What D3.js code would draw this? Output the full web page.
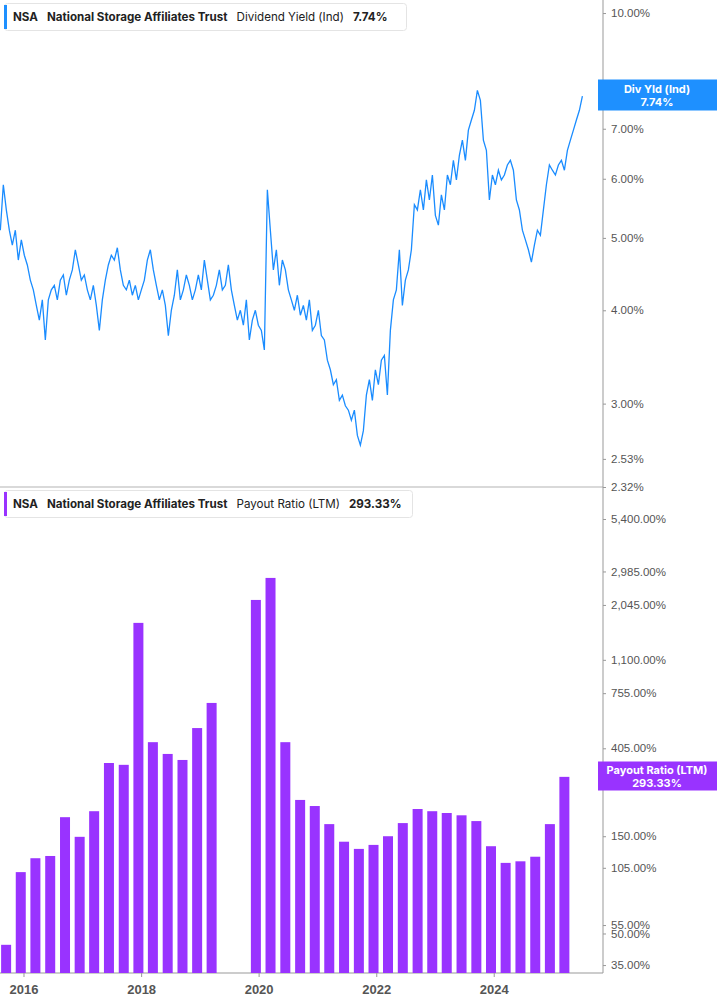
<!DOCTYPE html><html><head><meta charset="utf-8"><script src="https://cdn.jsdelivr.net/npm/d3@7"></script>
<style>body{margin:0;background:#fff;font-family:Inter,"Open Sans",sans-serif}</style></head><body><svg id="c" width="717" height="1005"></svg>
<script>
const yieldStart="2015-08-10", yieldEnd="2025-07-05";
const yieldValues=[5.12,5.89,5.45,5.12,4.89,5.12,4.67,4.97,4.74,4.60,4.39,4.26,4.06,3.88,4.13,3.65,4.13,4.26,4.32,4.13,4.39,4.46,4.19,4.39,4.53,4.82,4.60,4.39,4.46,4.26,4.13,4.32,4.06,3.76,4.13,4.39,4.60,4.74,4.67,4.85,4.53,4.32,4.26,4.39,4.19,4.32,4.13,4.26,4.39,4.67,4.82,4.53,4.32,4.13,4.26,4.06,3.70,4.00,4.19,4.53,4.13,4.26,4.46,4.32,4.13,4.26,4.46,4.26,4.67,4.39,4.13,4.19,4.32,4.53,4.26,4.32,4.60,4.26,4.06,3.88,4.00,3.82,4.13,3.65,3.88,4.00,3.82,3.76,3.54,5.80,5.12,4.53,4.82,4.32,4.67,4.53,4.26,4.13,4.00,4.19,3.94,4.06,3.88,4.13,3.76,3.82,4.00,3.70,3.65,3.43,3.33,3.18,3.23,3.03,3.08,2.98,2.94,2.85,2.94,2.72,2.64,2.76,3.08,3.23,3.03,3.33,3.18,3.43,3.48,3.08,3.76,4.13,4.26,4.82,4.06,4.39,4.53,4.82,5.54,5.45,5.80,5.45,5.98,5.62,6.07,5.36,5.20,5.71,5.45,6.07,5.89,6.35,5.98,6.45,6.76,6.35,6.97,7.19,7.41,7.88,7.64,6.76,6.55,5.62,6.07,5.89,6.16,5.98,6.07,6.26,6.35,6.16,5.62,5.45,5.12,4.97,4.82,4.64,4.89,5.12,5.04,5.45,5.89,6.26,6.16,6.07,6.26,6.35,6.16,6.55,6.76,6.97,7.19,7.41,7.74];
const payoutQuarters=["2015-09-15","2015-12-15","2016-03-15","2016-06-15","2016-09-15","2016-12-15","2017-03-15","2017-06-15","2017-09-15","2017-12-15","2018-03-15","2018-06-15","2018-09-15","2018-12-15","2019-03-15","2019-06-15","2019-09-15","2019-12-15","2020-03-15","2020-06-15","2020-09-15","2020-12-15","2021-03-15","2021-06-15","2021-09-15","2021-12-15","2022-03-15","2022-06-15","2022-09-15","2022-12-15","2023-03-15","2023-06-15","2023-09-15","2023-12-15","2024-03-15","2024-06-15","2024-09-15","2024-12-15","2025-03-15"];
const payoutValues=[44,100,117,120,186,149,199,343,336,1670,434,380,355,509,676,null,null,2164,2775,434,226,211,172,141,130,136,150,174,204,199,195,190,178,134,111,113,119,172,293.33];
const yieldTicks=[10,8,7,6,5,4,3,2.53,2.32];
const payoutTicks=[5400,2985,2045,1100,755,405,150,105,55,50,35];
const yearTicks=[2016,2018,2020,2022,2024];

const svg=d3.select("#c"), W=603;
const pt=d3.timeParse("%Y-%m-%d");
const x=d3.scaleTime().domain([new Date(2015,7,8),new Date(2025,10,10)]).range([0,W]);
const y1=d3.scaleLog().domain([2.32,10.41]).range([487,0]);
const y2=d3.scaleLog().domain([32,7750]).range([973,487]);
const t0=pt(yieldStart),t1=pt(yieldEnd),n=yieldValues.length;
const ydata=yieldValues.map((v,i)=>({d:new Date(+t0+(t1-t0)*i/(n-1)),v}));
svg.append("line").attr("x1",0).attr("x2",W).attr("y1",487).attr("y2",487).attr("stroke","#ccc").attr("stroke-width",1.5);
svg.append("line").attr("x1",W).attr("x2",W).attr("y1",0).attr("y2",973).attr("stroke","#999");
svg.append("line").attr("x1",0).attr("x2",W).attr("y1",973).attr("y2",973).attr("stroke","#999");
svg.append("path").datum(ydata).attr("fill","none").attr("stroke","#1a8cff").attr("stroke-width",1.3)
 .attr("d",d3.line().x(d=>x(d.d)).y(d=>y1(d.v)));
svg.append("g").selectAll("rect").data(payoutQuarters.map((q,i)=>({d:pt(q),v:payoutValues[i]})).filter(d=>d.v!=null))
 .join("rect").attr("x",d=>x(d.d)-5).attr("width",10).attr("y",d=>y2(d.v)).attr("height",d=>973-y2(d.v)).attr("fill","#9933ff");
const fmt=v=>d3.format(",.2f")(v)+"%";
const ax1=svg.append("g").attr("transform",`translate(${W},0)`).call(d3.axisRight(y1).tickValues(yieldTicks).tickFormat(fmt).tickSize(3));
const ax2=svg.append("g").attr("transform",`translate(${W},0)`).call(d3.axisRight(y2).tickValues(payoutTicks).tickFormat(fmt).tickSize(3));
[ax1,ax2].forEach(a=>{a.select(".domain").remove();a.selectAll("text").attr("fill","#555").attr("font-size",11.5).attr("x",8);a.selectAll("line").attr("stroke","#999");});
const ax3=svg.append("g").attr("transform","translate(0,973)").call(d3.axisBottom(x).tickValues(yearTicks.map(t=>new Date(t,0,1))).tickFormat(d3.timeFormat("%Y")).tickSize(4));
ax3.select(".domain").remove();ax3.selectAll("line").attr("stroke","#999");
ax3.selectAll("text").attr("fill","#555").attr("font-size",13).attr("font-weight","bold").attr("dy","1.1em");
function badge(yc,h,color,l1,l2){const g=svg.append("g");
 g.append("rect").attr("x",598).attr("y",yc-h/2).attr("width",119).attr("height",h).attr("fill",color);
 g.append("text").attr("x",657).attr("y",yc-2).attr("text-anchor","middle").attr("fill","#fff").attr("font-size",11).attr("font-weight","bold").text(l1);
 g.append("text").attr("x",657).attr("y",yc+11).attr("text-anchor","middle").attr("fill","#fff").attr("font-size",11).attr("font-weight","bold").text(l2);}
badge(95,31,"#1e90ff","Div Yld (Ind)","7.74%");
badge(776,29,"#9933ff","Payout Ratio (LTM)","293.33%");
function legend(y,w,color,metric,val){const g=svg.append("g");
 g.append("rect").attr("x",4.5).attr("y",y+.5).attr("width",w).attr("height",27).attr("rx",3).attr("fill","#fff").attr("stroke","#e4e4e4");
 g.append("rect").attr("x",4).attr("y",y+2).attr("width",3).attr("height",24).attr("fill",color);
 const t=g.append("text").attr("x",13).attr("y",y+18).attr("font-size",11.6).attr("fill","#222");
 t.append("tspan").attr("font-weight","bold").text("NSA");
 t.append("tspan").attr("dx",9).attr("font-weight","bold").text("National Storage Affiliates Trust");
 t.append("tspan").attr("dx",9).text(metric);
 t.append("tspan").attr("dx",9).attr("font-weight","bold").text(val);}
legend(3,402,"#1e90ff","Dividend Yield (Ind)","7.74%");
legend(490,408,"#9933ff","Payout Ratio (LTM)","293.33%");
</script></body></html>
